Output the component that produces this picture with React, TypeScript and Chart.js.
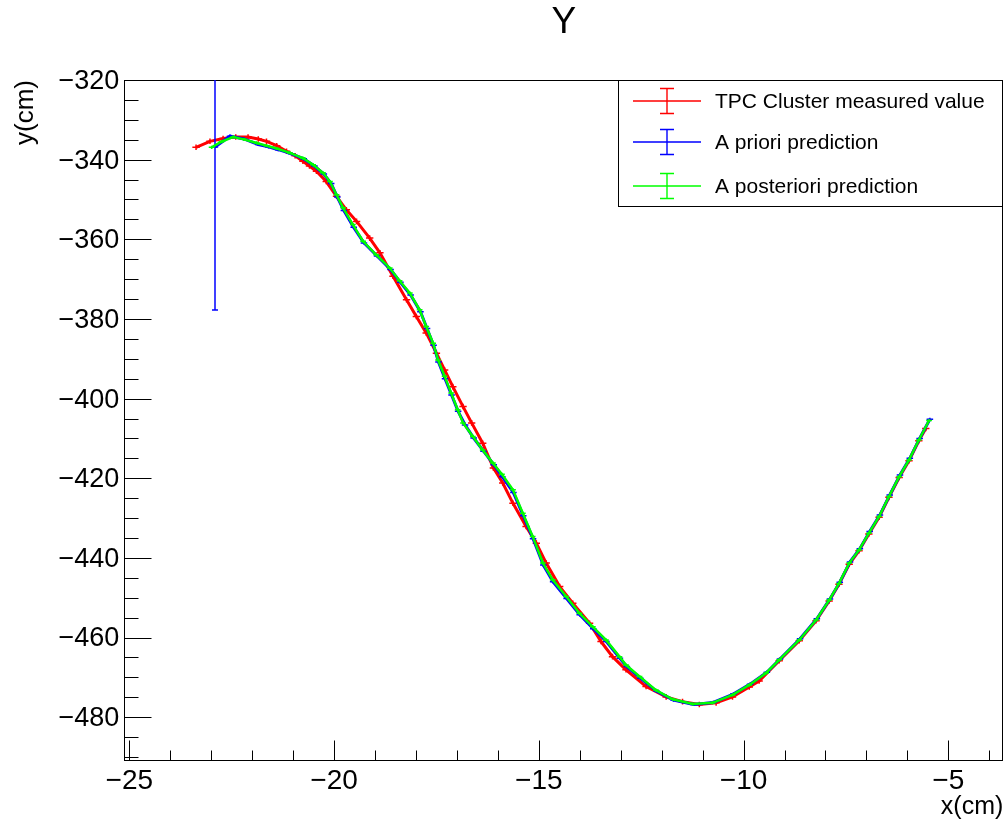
import React, { useEffect, useRef } from "react";
import { Chart, registerables } from "chart.js";

Chart.register(...registerables);

// ---------- data (x in cm, y in cm) ----------
const redPoints: [number, number][] = [
  [-23.37, -336.9], [-23.03, -335.4], [-22.71, -334.7], [-22.4, -334.3], [-22.1, -334.3],
  [-21.85, -334.8], [-21.65, -335.4], [-21.4, -336.5], [-21.16, -337.9], [-20.95, -339.0],
  [-20.76, -340.4], [-20.6, -341.6], [-20.43, -342.9], [-20.19, -345.5], [-19.94, -349.2],
  [-19.7, -352.6], [-19.45, -355.5], [-19.13, -359.7], [-18.88, -363.4], [-18.56, -369.3],
  [-18.23, -375.2], [-17.99, -379.4], [-17.75, -383.5], [-17.5, -388.6], [-17.3, -392.8],
  [-17.1, -397.0], [-16.85, -402.0], [-16.64, -406.1], [-16.37, -411.2], [-16.11, -417.4],
  [-15.88, -421.2], [-15.63, -426.3], [-15.31, -432.1], [-15.06, -436.3], [-14.82, -441.3],
  [-14.49, -447.2], [-14.17, -451.4], [-13.76, -456.4], [-13.48, -461.0], [-13.2, -464.8],
  [-12.87, -468.1], [-12.38, -472.3], [-11.89, -474.9], [-11.49, -476.1], [-11.08, -476.8],
  [-10.67, -476.4], [-10.27, -474.9], [-9.86, -472.4], [-9.62, -470.9], [-9.13, -465.8],
  [-8.64, -460.8], [-8.23, -455.8], [-7.91, -450.8], [-7.67, -446.6], [-7.42, -441.6],
  [-7.18, -438.2], [-6.94, -434.0], [-6.69, -429.8], [-6.45, -424.8], [-6.2, -419.8],
  [-5.96, -415.6], [-5.72, -410.6], [-5.55, -407.5],
];

const bluePoints: [number, number][] = [
  [-22.91, -336.8], [-22.54, -334.1], [-22.2, -334.8], [-21.85, -336.2], [-21.6, -336.8],
  [-21.36, -337.5], [-21.05, -338.5], [-20.74, -339.8], [-20.48, -341.6], [-20.25, -343.6],
  [-20.07, -346.0], [-19.92, -349.4], [-19.76, -352.8], [-19.52, -357.0], [-19.27, -360.9],
  [-18.95, -364.2], [-18.62, -367.6], [-18.38, -370.8], [-18.13, -374.0], [-17.89, -378.2],
  [-17.73, -382.4], [-17.57, -386.6], [-17.45, -390.8], [-17.29, -395.0], [-17.13, -399.1],
  [-16.97, -403.2], [-16.8, -406.6], [-16.59, -409.9], [-16.35, -413.2], [-16.1, -416.6],
  [-15.89, -419.6], [-15.62, -423.6], [-15.38, -429.4], [-15.14, -435.2], [-14.89, -441.8],
  [-14.65, -446.0], [-14.32, -450.2], [-14.0, -454.3], [-13.67, -457.8], [-13.35, -461.0],
  [-13.02, -465.2], [-12.85, -467.3], [-12.52, -470.2], [-12.12, -473.5], [-11.71, -475.7],
  [-11.22, -476.8], [-10.74, -476.3], [-10.25, -474.2], [-9.84, -471.7], [-9.43, -468.7],
  [-9.11, -465.4], [-8.62, -460.3], [-8.21, -455.3], [-7.89, -450.3], [-7.65, -446.1],
  [-7.4, -441.0], [-7.16, -437.7], [-6.92, -433.4], [-6.67, -429.2], [-6.43, -424.2],
  [-6.18, -419.2], [-5.94, -415.0], [-5.7, -410.0], [-5.45, -405.2],
];

const greenPoints: [number, number][] = [
  [-22.99, -336.9], [-22.75, -335.5], [-22.46, -334.3], [-22.2, -334.9], [-21.89, -335.8],
  [-21.65, -336.5], [-21.4, -337.2], [-21.08, -338.3], [-20.76, -339.6], [-20.51, -341.3],
  [-20.27, -343.3], [-20.1, -345.5], [-19.94, -348.8], [-19.78, -352.1], [-19.54, -356.3],
  [-19.29, -360.5], [-18.97, -363.9], [-18.64, -367.2], [-18.4, -370.4], [-18.15, -373.5],
  [-17.91, -377.7], [-17.75, -381.9], [-17.58, -386.1], [-17.46, -390.3], [-17.3, -394.4],
  [-17.14, -398.6], [-16.98, -402.8], [-16.85, -406.1], [-16.61, -409.5], [-16.37, -412.9],
  [-16.12, -416.2], [-15.9, -419.0], [-15.63, -422.9], [-15.39, -428.8], [-15.15, -434.6],
  [-14.9, -441.3], [-14.66, -445.5], [-14.33, -449.7], [-14.01, -453.9], [-13.68, -457.3],
  [-13.36, -460.6], [-13.03, -464.8], [-12.87, -466.9], [-12.54, -469.8], [-12.14, -473.2],
  [-11.73, -475.5], [-11.24, -476.7], [-10.76, -476.4], [-10.27, -474.4], [-9.86, -471.9],
  [-9.45, -468.9], [-9.13, -465.6], [-8.64, -460.6], [-8.23, -455.6], [-7.91, -450.6],
  [-7.67, -446.4], [-7.42, -441.3], [-7.18, -438.0], [-6.94, -433.8], [-6.69, -429.6],
  [-6.45, -424.6], [-6.2, -419.6], [-5.96, -415.4], [-5.72, -410.4], [-5.47, -405.5],
];

// error half-widths (cm)
const redErr = { x: 0.09, y: 0.7 };
const blueErr = { x: 0.08, y: 0.4 };
const greenErr = { x: 0.07, y: 0.4 };
const blueFirstErrY = 40.9;

const seriesLabels = ["TPC Cluster measured value", "A priori prediction", "A posteriori prediction"];
const seriesColors = ["#ff0000", "#0000ff", "#00ff00"];

const xMajorTicks = [-25, -20, -15, -10, -5];
const xMinorTicks = [-24, -23, -22, -21, -19, -18, -17, -16, -14, -13, -12, -11, -9, -8, -7, -6, -4];
const yMajorTicks = [-480, -460, -440, -420, -400, -380, -360, -340, -320];
const yMinorTicks = [
  -490, -485, -475, -470, -465, -455, -450, -445, -435, -430, -425, -415, -410, -405,
  -395, -390, -385, -375, -370, -365, -355, -350, -345, -335, -330, -325,
];
const xRange = { min: -25.122, max: -3.657 };
const yRange = { min: -491, max: -320 };

const FONT = "'Liberation Sans', Arial, Helvetica, sans-serif";
const fmt = (v: number | string) => {
  const n = Number(v);
  return n < 0 ? "\u2212" + Math.abs(n) : String(n);
};

const errorBarPlugin = {
  id: "errorBars",
  afterDatasetDraw(chart: any, args: any) {
    const ds = chart.data.datasets[args.index];
    const xs = chart.scales.x;
    const ys = chart.scales.y;
    const a = chart.chartArea;
    const ctx = chart.ctx as CanvasRenderingContext2D;
    ctx.save();
    ctx.beginPath();
    ctx.rect(a.left, a.top, a.right - a.left, a.bottom - a.top);
    ctx.clip();
    ctx.strokeStyle = ds.borderColor;
    ctx.lineWidth = 1.5;
    ds.data.forEach((p: any, i: number) => {
      const ex = ds.errX[i];
      const ey = ds.errY[i];
      const cx = xs.getPixelForValue(p.x);
      const cy = ys.getPixelForValue(p.y);
      const x0 = xs.getPixelForValue(p.x - ex);
      const x1 = xs.getPixelForValue(p.x + ex);
      const y0 = ys.getPixelForValue(p.y - ey);
      const y1 = ys.getPixelForValue(p.y + ey);
      const big = Math.abs(y1 - y0) > 12;
      const bx = big ? Math.round(cx) : cx;
      ctx.beginPath();
      ctx.moveTo(x0, cy);
      ctx.lineTo(x1, cy);
      ctx.moveTo(bx, y0);
      ctx.lineTo(bx, y1);
      if (big) {
        ctx.moveTo(bx - 3, Math.round(y0));
        ctx.lineTo(bx + 3, Math.round(y0));
        ctx.moveTo(bx - 3, Math.round(y1));
        ctx.lineTo(bx + 3, Math.round(y1));
      }
      ctx.stroke();
    });
    ctx.restore();
  },
};

const framePlugin = {
  id: "rootFrame",
  beforeDatasetsDraw(chart: any) {
    const ctx = chart.ctx as CanvasRenderingContext2D;
    const a = chart.chartArea;
    const xs = chart.scales.x;
    const ys = chart.scales.y;
    ctx.save();
    ctx.strokeStyle = "#000";
    ctx.lineWidth = 1;
    const L = Math.round(a.left) + 0.5;
    const R = Math.round(a.right) - 0.5;
    const T = Math.round(a.top) + 0.5;
    const B = Math.round(a.bottom) - 0.5;
    ctx.strokeRect(L, T, R - L, B - T);
    ctx.beginPath();
    yMajorTicks.forEach((v) => {
      const y = Math.round(ys.getPixelForValue(v)) + 0.5;
      ctx.moveTo(L, y);
      ctx.lineTo(L + 27, y);
    });
    yMinorTicks.forEach((v) => {
      const y = Math.round(ys.getPixelForValue(v)) + 0.5;
      ctx.moveTo(L, y);
      ctx.lineTo(L + 14, y);
    });
    xMajorTicks.forEach((v) => {
      const x = Math.round(xs.getPixelForValue(v)) + 0.5;
      ctx.moveTo(x, B);
      ctx.lineTo(x, B - 20);
    });
    xMinorTicks.forEach((v) => {
      const x = Math.round(xs.getPixelForValue(v)) + 0.5;
      ctx.moveTo(x, B);
      ctx.lineTo(x, B - 10);
    });
    ctx.stroke();
    ctx.restore();
  },
};

const legendPlugin = {
  id: "rootLegend",
  afterDraw(chart: any) {
    const ctx = chart.ctx as CanvasRenderingContext2D;
    const a = chart.chartArea;
    const left = 618.5;
    const top = Math.round(a.top) + 0.5;
    const right = Math.round(a.right) - 0.5;
    const bottom = 206.5;
    ctx.save();
    ctx.fillStyle = "#fff";
    ctx.fillRect(left, top, right - left, bottom - top);
    ctx.strokeStyle = "#000";
    ctx.lineWidth = 1;
    ctx.strokeRect(left, top, right - left, bottom - top);
    const rows = [101, 142, 186];
    ctx.font = `21px ${FONT}`;
    ctx.textBaseline = "middle";
    ctx.textAlign = "left";
    chart.data.datasets.forEach((ds: any, i: number) => {
      const y = rows[i];
      ctx.strokeStyle = ds.borderColor;
      ctx.lineWidth = 1.4;
      ctx.beginPath();
      ctx.moveTo(633, y);
      ctx.lineTo(701, y);
      ctx.moveTo(667, y - 12.5);
      ctx.lineTo(667, y + 12.5);
      ctx.moveTo(660, y - 12.5);
      ctx.lineTo(674, y - 12.5);
      ctx.moveTo(660, y + 12.5);
      ctx.lineTo(674, y + 12.5);
      ctx.stroke();
      ctx.fillStyle = "#000";
      ctx.fillText(ds.label, 715, y + 1.5);
    });
    ctx.restore();
  },
};

function toXY(pts: [number, number][]) {
  return pts.map(([x, y]) => ({ x, y }));
}

export default function App() {
  const canvasRef = useRef<HTMLCanvasElement | null>(null);

  useEffect(() => {
    document.body.style.margin = "0";
    const canvas = canvasRef.current;
    if (!canvas) return;
    Chart.defaults.font.family = FONT;
    Chart.defaults.color = "#000";

    const blueErrY = bluePoints.map((_, i) => (i === 0 ? blueFirstErrY : blueErr.y));

    const chart = new Chart(canvas, {
      type: "scatter",
      data: {
        datasets: [
          {
            label: seriesLabels[0],
            data: toXY(redPoints),
            borderColor: seriesColors[0],
            backgroundColor: seriesColors[0],
            showLine: true,
            borderWidth: 3,
            pointRadius: 0,
            order: 2,
            errX: redPoints.map(() => redErr.x),
            errY: redPoints.map(() => redErr.y),
          } as any,
          {
            label: seriesLabels[1],
            data: toXY(bluePoints),
            borderColor: seriesColors[1],
            backgroundColor: seriesColors[1],
            showLine: true,
            borderWidth: 3,
            pointRadius: 0,
            order: 1,
            errX: bluePoints.map(() => blueErr.x),
            errY: blueErrY,
          } as any,
          {
            label: seriesLabels[2],
            data: toXY(greenPoints),
            borderColor: seriesColors[2],
            backgroundColor: seriesColors[2],
            showLine: true,
            borderWidth: 2.5,
            pointRadius: 0,
            order: 0,
            errX: greenPoints.map(() => greenErr.x),
            errY: greenPoints.map(() => greenErr.y),
          } as any,
        ],
      },
      options: {
        responsive: false,
        animation: false,
        layout: { padding: { left: 0, right: 0.7, top: 0, bottom: 0 } },
        plugins: {
          legend: { display: false },
          tooltip: { enabled: false },
          title: {
            display: true,
            text: "Y",
            fullSize: false,
            color: "#000",
            font: { size: 37, weight: "normal", family: FONT },
            padding: { top: 1, bottom: 34.6 },
          },
        },
        scales: {
          x: {
            type: "linear",
            min: xRange.min,
            max: xRange.max,
            afterBuildTicks: (s: any) => {
              s.ticks = xMajorTicks.map((v) => ({ value: v }));
            },
            afterFit: (s: any) => {
              s.height = 60;
            },
            grid: { display: false, drawTicks: false },
            border: { display: false },
            ticks: {
              color: "#000",
              font: { size: 28, family: FONT },
              padding: 3,
              maxRotation: 0,
              autoSkip: false,
              callback: (v: any) => fmt(v),
            },
            title: {
              display: true,
              text: "x(cm)",
              align: "end",
              color: "#000",
              font: { size: 25, family: FONT },
              padding: { top: 0, bottom: -1 },
            },
          },
          y: {
            type: "linear",
            min: yRange.min,
            max: yRange.max,
            afterBuildTicks: (s: any) => {
              s.ticks = yMajorTicks.map((v) => ({ value: v }));
            },
            afterFit: (s: any) => {
              s.width = 124.3;
            },
            grid: { display: false, drawTicks: false },
            border: { display: false },
            ticks: {
              color: "#000",
              font: { size: 27, family: FONT },
              padding: 5,
              labelOffset: 1.5,
              autoSkip: false,
              callback: (v: any) => fmt(v),
            },
            title: {
              display: true,
              text: "y(cm)",
              align: "end",
              color: "#000",
              font: { size: 26, family: FONT },
              padding: { top: 10, bottom: 0 },
            },
          },
        },
      } as any,
      plugins: [framePlugin, errorBarPlugin, legendPlugin],
    });
    return () => chart.destroy();
  }, []);

  return (
    <div style={{ width: 1004, height: 821, overflow: "hidden", background: "#fff" }}>
      <canvas ref={canvasRef} width={1004} height={821} style={{ display: "block" }} />
    </div>
  );
}
